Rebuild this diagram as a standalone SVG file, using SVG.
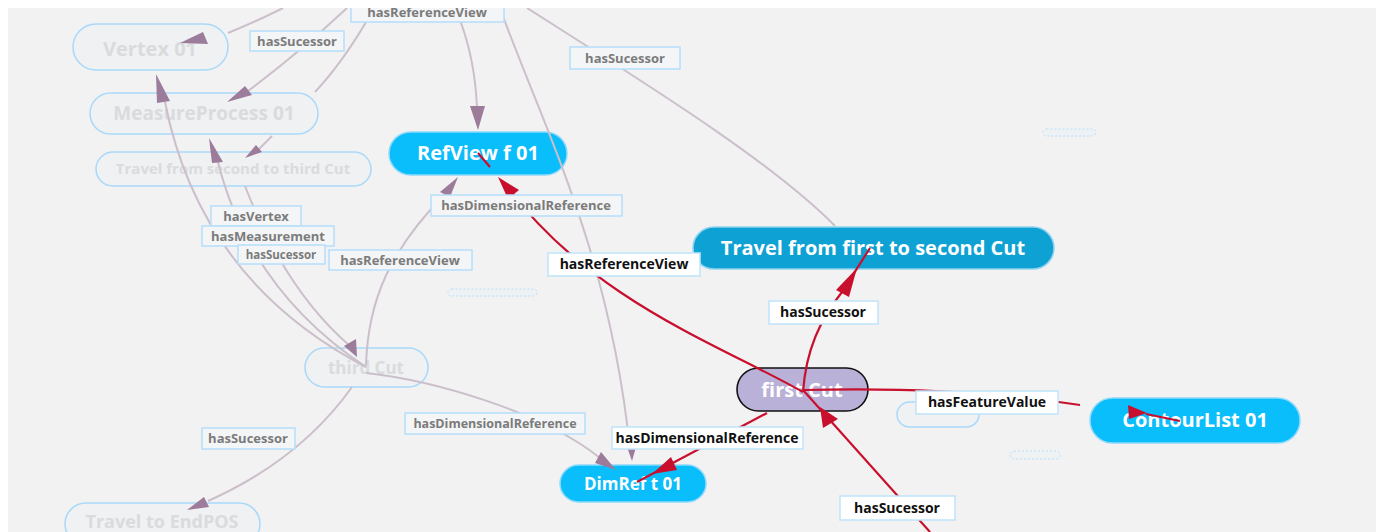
<svg xmlns="http://www.w3.org/2000/svg" width="1376" height="532" viewBox="0 0 1376 532">
<defs>
<clipPath id="area"><rect x="8" y="8" width="1368" height="524"/></clipPath>
</defs>
<style>
.txt{font-family:"Open Sans","Noto Sans","Liberation Sans",sans-serif;font-weight:bold;text-anchor:middle}
.fn rect{fill:#eff1f3;stroke:#a9d9fa;stroke-width:1.5}
.fn text{fill:#dadbdd}
.bn rect{fill:#0abdfb;stroke:#8fd9fb;stroke-width:1.5}
.bn text{fill:#ffffff}
.tiny{fill:#eef2f5;stroke:#b8def8;stroke-width:1;stroke-dasharray:2 2}
.fe{fill:none;stroke:#cbbfcb;stroke-width:2}
.fa{fill:#9c7b9b}
.re{fill:none;stroke:#c8102e;stroke-width:2.2}
.ra{fill:#c8102e}
.fl rect{fill:#f4f5f6;stroke:#b6defa;stroke-width:1.5}
.fl text{fill:#7b7b7b;font-size:13px}
.al rect{fill:#ffffff;stroke:#bfe3fa;stroke-width:1.5}
.al text{fill:#111111;font-size:14px}
</style>
<rect x="0" y="0" width="1376" height="532" fill="#ffffff"/>
<rect x="8" y="8" width="1368" height="524" fill="#f2f2f2"/>

<g clip-path="url(#area)">
<g id="nodes">
<g id="n-vertex" class="fn txt"><rect x="73" y="24" width="155" height="46" rx="23"/><text x="150" y="56" font-size="20">Vertex 01</text></g>
<g id="n-measure" class="fn txt"><rect x="90" y="93" width="228" height="41" rx="20.5"/><text x="204" y="120" font-size="19">MeasureProcess 01</text></g>
<g id="n-travel23" class="fn txt"><rect x="96" y="152" width="275" height="34" rx="17"/><text x="233" y="174" font-size="15">Travel from second to third Cut</text></g>
<g id="n-third" class="fn txt"><rect x="305" y="348" width="123" height="39" rx="19.5"/><text x="366" y="374" font-size="17">third Cut</text></g>
<g id="n-endpos" class="fn txt"><rect x="65" y="503" width="195" height="42" rx="21"/><text x="162" y="528" font-size="18">Travel to EndPOS</text></g>
<g id="n-small" class="fn txt"><rect x="897" y="402" width="82" height="25" rx="12.5"/></g>
<g id="n-tiny1"><rect class="tiny" x="1043" y="129" width="53" height="7" rx="3.5"/></g>
<g id="n-tiny2"><rect class="tiny" x="448" y="289" width="89" height="7" rx="3.5"/></g>
<g id="n-tiny3"><rect class="tiny" x="1010" y="451" width="50" height="8" rx="4"/></g>
<g id="n-refview" class="bn txt"><rect x="389" y="132" width="178" height="43" rx="21.5"/><text x="478" y="160" font-size="20">RefView f 01</text></g>
<g id="n-travel12" class="txt"><rect x="693" y="227" width="361" height="42" rx="21" fill="#0ea1d3" stroke="#8fd3f0" stroke-width="1.5"/><text x="873" y="255" font-size="20" fill="#ffffff">Travel from first to second Cut</text></g>
<g id="n-first" class="txt"><rect x="737" y="368" width="131" height="43" rx="21.5" fill="#b9b1d7" stroke="#111111" stroke-width="1.6"/><text x="802" y="397" font-size="20" fill="#ffffff">first Cut</text></g>
<g id="n-contour" class="bn txt"><rect x="1090" y="398" width="210" height="45" rx="22.5"/><text x="1195" y="427" font-size="20">ContourList 01</text></g>
<g id="n-dimref" class="bn txt"><rect x="560" y="465" width="146" height="37" rx="18.5"/><text x="633" y="490" font-size="17">DimRef t 01</text></g>
</g>

<g id="connectors">
<path class="fe" d="M283,8 Q255,22 228,33"/>
<polygon class="fa" points="180,43 203,32 208,44"/>
<path class="fe" d="M347,8 Q300,52 248,91"/>
<polygon class="fa" points="227,102 245,86 252,95"/>
<path class="fe" d="M373,10 Q345,60 315,92"/>
<path class="fe" d="M272,136 L258,150"/>
<polygon class="fa" points="245,158 256,145 262,152"/>
<path class="fe" d="M165,102 Q200,280 366,367"/>
<polygon class="fa" points="156,74 157,103 170,101"/>
<path class="fe" d="M218,162 Q250,290 366,367"/>
<polygon class="fa" points="209,138 212,163 223,162"/>
<path class="fe" d="M245,186 Q285,290 350,346"/>
<polygon class="fa" points="357,357 344,346 356,339"/>
<path class="fe" d="M366,365 C368,300 390,250 446,193"/>
<polygon class="fa" points="458,177 440,192 450,197"/>
<path class="fe" d="M460,20 Q475,60 477,108"/>
<polygon class="fa" points="478,130 470,106 485,106"/>
<path class="fe" d="M500,8 C540,120 610,250 630,450"/>
<polygon class="fa" points="632,461 627,447 636,447"/>
<path class="fe" d="M527,8 C640,80 770,160 835,226"/>
<path class="fe" d="M366,373 C430,380 540,410 600,458"/>
<polygon class="fa" points="616,470 595,463 601,452"/>
<path class="fe" d="M352,387 Q300,460 208,501"/>
<polygon class="fa" points="187,510 204,497 209,507"/>

<path class="re" d="M803,392 C720,345 590,300 505,184"/>
<polygon class="ra" points="498,177 508,199 519,190"/>
<path class="re" d="M478,153 L490,167"/>
<path class="re" d="M803,392 C806,350 820,320 842,292 L870,248"/>
<polygon class="ra" points="857,268 836,290 849,297"/>
<path class="re" d="M803,390 Q960,386 1080,405"/>
<polygon class="ra" points="1147,413 1128,405 1129,419"/>
<path class="re" d="M1146,414 L1180,421"/>
<path class="re" d="M767,413 L637,482"/>
<polygon class="ra" points="652,474 671,457 677,470"/>
<path class="re" d="M930,532 L803,390"/>
<polygon class="ra" points="820,407 823,428 838,419"/>
</g>

<g id="labels">
<g class="fl txt"><rect x="351" y="-2" width="153" height="24"/><text x="427" y="17">hasReferenceView</text></g>
<g class="fl txt"><rect x="250" y="31" width="94" height="20"/><text x="297" y="46">hasSucessor</text></g>
<g class="fl txt"><rect x="570" y="47" width="110" height="22"/><text x="625" y="63">hasSucessor</text></g>
<g class="fl txt"><rect x="431" y="195" width="191" height="21"/><text x="526" y="210">hasDimensionalReference</text></g>
<g class="fl txt"><rect x="211" y="206" width="90" height="20"/><text x="256" y="221">hasVertex</text></g>
<g class="fl txt"><rect x="202" y="226" width="132" height="20"/><text x="268" y="241">hasMeasurement</text></g>
<g class="fl txt"><rect x="238" y="245" width="87" height="19"/><text x="281" y="259" style="font-size:11.5px">hasSucessor</text></g>
<g class="fl txt"><rect x="329" y="250" width="143" height="20"/><text x="400" y="265">hasReferenceView</text></g>
<g class="fl txt"><rect x="405" y="413" width="180" height="21"/><text x="495" y="428" style="font-size:12.5px">hasDimensionalReference</text></g>
<g class="fl txt"><rect x="202" y="428" width="93" height="21"/><text x="248" y="443">hasSucessor</text></g>
<g class="al txt"><rect x="548" y="253" width="152" height="23"/><text x="624" y="269">hasReferenceView</text></g>
<g class="al txt"><rect x="769" y="301" width="109" height="23"/><text x="823" y="317">hasSucessor</text></g>
<g class="al txt"><rect x="916" y="391" width="142" height="23"/><text x="987" y="407">hasFeatureValue</text></g>
<g class="al txt"><rect x="612" y="427" width="191" height="22"/><text x="707" y="443">hasDimensionalReference</text></g>
<g class="al txt"><rect x="840" y="496" width="115" height="24"/><text x="897" y="513">hasSucessor</text></g>
</g>
</g>
</svg>
